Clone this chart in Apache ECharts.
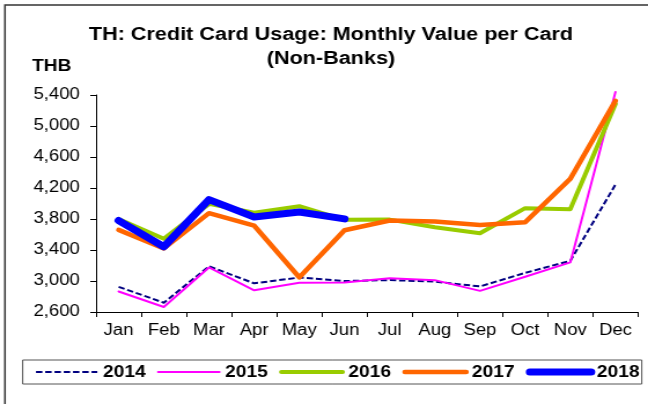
<!DOCTYPE html>
<html>
<head>
<meta charset="utf-8">
<script src="https://cdn.jsdelivr.net/npm/echarts@6/dist/echarts.min.js"></script>
<style>
  html, body { margin: 0; padding: 0; background: #fff; overflow: hidden; }
  /* chart is laid out on a narrower canvas and stretched to the page width */
  #chart { width: 560px; height: 404px; transform: scaleX(1.1572); transform-origin: 0 0; }
</style>
</head>
<body>
<div id="chart"></div>
<script>
const months = ['Jan', 'Feb', 'Mar', 'Apr', 'May', 'Jun', 'Jul', 'Aug', 'Sep', 'Oct', 'Nov', 'Dec'];
const yTicks = { min: 2600, max: 5400, step: 400 };

const v2014 = [2925, 2720, 3190, 2970, 3045, 3000, 3012, 2992, 2930, 3105, 3260, 4245];
const v2015 = [2865, 2665, 3175, 2880, 2977, 2981, 3035, 3011, 2873, 3054, 3240, 5440];
const v2016 = [3800, 3545, 3995, 3880, 3965, 3790, 3792, 3693, 3616, 3940, 3927, 5285];
const v2017 = [3660, 3420, 3875, 3715, 3046, 3655, 3780, 3767, 3724, 3758, 4320, 5326];
const v2018 = [3780, 3442, 4050, 3825, 3890, 3802];

const FONT = '"Liberation Sans", Arial, sans-serif';

const chart = echarts.init(document.getElementById('chart'), null, { renderer: 'canvas' });

function lineSeries(name, data, color, width, extra) {
  return Object.assign({
    name: name,
    type: 'line',
    data: data,
    symbol: 'none',
    smooth: false,
    lineStyle: { color: color, width: width, join: 'round', cap: 'round' },
    itemStyle: { color: color }
  }, extra || {});
}

chart.setOption({
  animation: false,
  backgroundColor: '#ffffff',
  graphic: [
    { type: 'rect', shape: { x: 4.3, y: 5, width: 700, height: 500 },
      style: { fill: 'none', stroke: '#333', lineWidth: 1.5 }, silent: true },
    { type: 'text', x: 286, y: 35,
      style: { text: 'TH: Credit Card Usage: Monthly Value per Card', font: '700 18.7px ' + FONT,
               fill: '#000', textAlign: 'center', textVerticalAlign: 'middle' } },
    { type: 'text', x: 286, y: 59,
      style: { text: '(Non-Banks)', font: '700 18.7px ' + FONT,
               fill: '#000', textAlign: 'center', textVerticalAlign: 'middle' } },
    { type: 'text', x: 27.7, y: 66,
      style: { text: 'THB', font: '700 16.5px ' + FONT,
               fill: '#000', textAlign: 'left', textVerticalAlign: 'middle' } }
  ],
  grid: { left: 83, right: 8.6, top: 95, bottom: 92 },
  xAxis: {
    type: 'category',
    data: months,
    boundaryGap: true,
    axisLine: { lineStyle: { color: '#000', width: 1 } },
    axisTick: { show: true, inside: false, length: 5, alignWithLabel: false, lineStyle: { color: '#000' } },
    axisLabel: { color: '#000', fontSize: 16, fontFamily: FONT, margin: 11, interval: 0 },
    splitLine: { show: false }
  },
  yAxis: {
    type: 'value',
    min: yTicks.min,
    max: yTicks.max,
    interval: yTicks.step,
    axisLine: { show: true, lineStyle: { color: '#000', width: 1 } },
    axisTick: { show: true, inside: false, length: 5, lineStyle: { color: '#000' } },
    axisLabel: {
      color: '#000', fontSize: 16, fontFamily: FONT, margin: 14,
      formatter: v => v.toLocaleString('en-US')
    },
    splitLine: { show: false }
  },
  legend: {
    data: ['2014', '2015', '2016', '2017', '2018'],
    left: 19.6,
    top: 360,
    width: 535,
    orient: 'horizontal',
    padding: [3, 2, 3, 10.5],
    itemWidth: 53,
    itemHeight: 14,
    itemGap: 9.8,
    borderColor: '#555',
    borderWidth: 1,
    // legend keys are plain line samples: no marker, same stroke as the series
    itemStyle: { opacity: 0 },
    lineStyle: { width: 'inherit', type: 'inherit' },
    textStyle: { color: '#000', fontSize: 16.5, fontWeight: 'bold', fontFamily: FONT, lineHeight: 18 }
  },
  series: [
    lineSeries('2014', v2014, '#000080', 2, {
      lineStyle: { color: '#000080', width: 2, type: [5.5, 2.5], join: 'round', cap: 'butt' }
    }),
    lineSeries('2015', v2015, '#ff00ff', 2, { clip: false }),
    lineSeries('2016', v2016, '#99cc00', 4),
    lineSeries('2017', v2017, '#ff6600', 4.5),
    lineSeries('2018', v2018, '#0000ff', 7)
  ]
});
</script>
</body>
</html>
